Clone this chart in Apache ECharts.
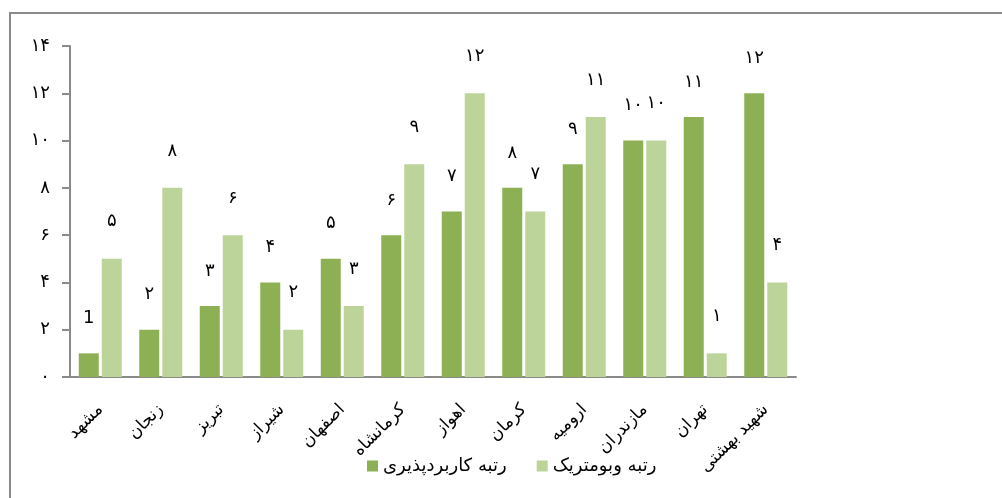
<!DOCTYPE html>
<html>
<head>
<meta charset="utf-8">
<style>
  html, body { margin: 0; padding: 0; background: #fff; }
  #chart { width: 1002px; height: 498px; }
</style>
<script src="https://cdn.jsdelivr.net/npm/echarts@6/dist/echarts.min.js"></script>
</head>
<body>
<div id="chart"></div>
<script>
// دانشگاه ها
var cities = ['مشهد', 'زنجان', 'تبریز', 'شیراز', 'اصفهان', 'کرمانشاه', 'اهواز', 'کرمان', 'ارومیه', 'مازندران', 'تهران', 'شهید بهشتی'];
// رتبه کاربردپذیری
var usability = [1, 2, 3, 4, 5, 6, 7, 8, 9, 10, 11, 12];
var usabilityLabels = ['1', '۲', '۳', '۴', '۵', '۶', '۷', '۸', '۹', '۱۰', '۱۱', '۱۲'];
// رتبه وبومتریک
var webometric = [5, 8, 6, 2, 3, 9, 12, 7, 11, 10, 1, 4];
var webometricLabels = ['۵', '۸', '۶', '۲', '۳', '۹', '۱۲', '۷', '۱۱', '۱۰', '۱', '۴'];
var yTicks = ['۰', '۲', '۴', '۶', '۸', '۱۰', '۱۲', '۱۴'];

var chart = echarts.init(document.getElementById('chart'));
var fa = 'DejaVu Sans';

var option = {
    backgroundColor: '#fff',
    animation: false,
    textStyle: { fontFamily: fa },
    graphic: [{
        type: 'rect',
        shape: { x: 10, y: 13, width: 1100, height: 600 },
        style: { fill: 'none', stroke: '#8a8a8a', lineWidth: 2 },
        silent: true
    }],
    grid: { left: 70, top: 46, right: 206, bottom: 121 },
    legend: {
        left: 362,
        top: 452,
        itemWidth: 11,
        itemHeight: 11,
        itemGap: 30,
        icon: 'rect',
        textStyle: { fontFamily: fa, fontSize: 18, color: '#000' },
        data: ['رتبه کاربردپذیری', 'رتبه وبومتریک']
    },
    xAxis: {
        type: 'category',
        data: cities,
        axisLine: { lineStyle: { color: '#8a8a8a', width: 2 } },
        axisTick: { length: 8, lineStyle: { color: '#8a8a8a', width: 2 } },
        axisLabel: {
            rotate: 45,
            margin: 30,
            fontSize: 17,
            color: '#000',
            fontFamily: fa,
            interval: 0
        }
    },
    yAxis: {
        type: 'value',
        min: 0,
        max: 14,
        interval: 2,
        axisLine: { show: true, lineStyle: { color: '#8a8a8a', width: 2 } },
        axisTick: { show: true, length: 8, lineStyle: { color: '#8a8a8a', width: 2 } },
        splitLine: { show: false },
        axisLabel: {
            margin: 20,
            fontSize: 18,
            color: '#000',
            fontFamily: fa,
            formatter: function (v) { return yTicks[v / 2]; }
        }
    },
    series: [
        {
            name: 'رتبه کاربردپذیری',
            type: 'bar',
            data: usability,
            barWidth: 20,
            barGap: '15%',
            itemStyle: { color: '#8db054' },
            label: {
                show: true,
                position: 'top',
                distance: 26,
                fontSize: 18,
                color: '#000',
                fontFamily: fa,
                formatter: function (p) { return usabilityLabels[p.dataIndex]; }
            }
        },
        {
            name: 'رتبه وبومتریک',
            type: 'bar',
            data: webometric,
            barWidth: 20,
            itemStyle: { color: '#bcd49a' },
            label: {
                show: true,
                position: 'top',
                distance: 28,
                fontSize: 18,
                color: '#000',
                fontFamily: fa,
                formatter: function (p) { return webometricLabels[p.dataIndex]; }
            }
        }
    ]
};
chart.setOption(option);
</script>
</body>
</html>
